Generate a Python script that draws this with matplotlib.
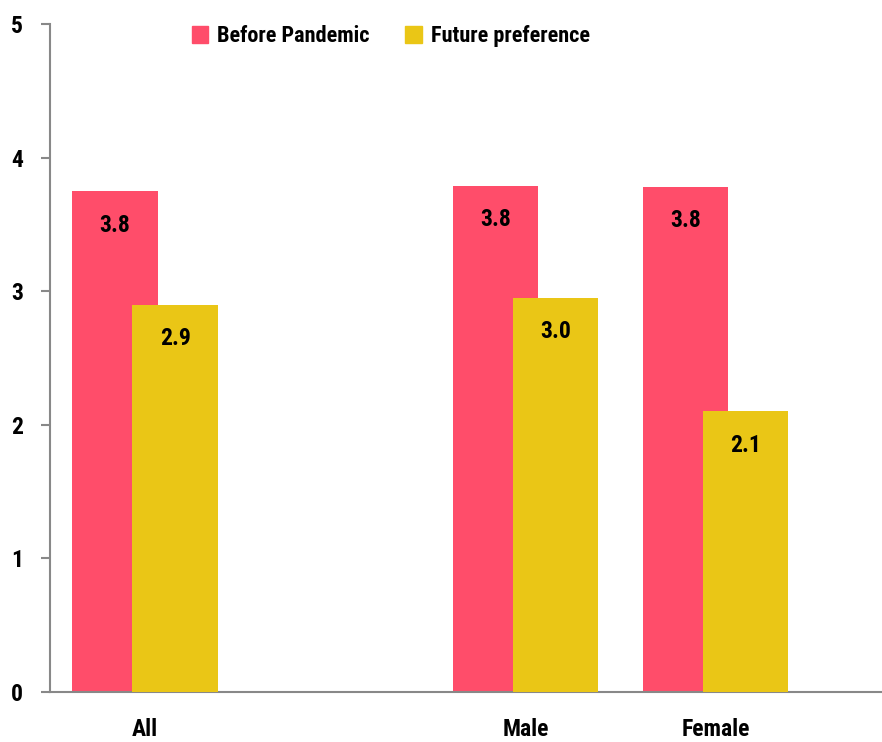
import matplotlib.pyplot as plt
from matplotlib import font_manager
from matplotlib.patches import Patch
import numpy as np

categories = ['All', '', 'Male', 'Female']
before = [3.75, None, 3.79, 3.78]
future = [2.90, None, 2.95, 2.10]
before_labels = ['3.8', '', '3.8', '3.8']
future_labels = ['2.9', '', '3.0', '2.1']

pink = '#FF4D6A'
yellow = '#EAC616'
grey = '#888888'


def main():
    names = {f.name for f in font_manager.fontManager.ttflist}
    fams = [n for n in ('Roboto Condensed', 'Liberation Sans Narrow')
            if n in names]
    plt.rcParams['font.family'] = fams + ['DejaVu Sans']
    plt.rcParams['font.stretch'] = 'condensed'
    plt.rcParams['font.weight'] = 'bold'
    plt.rcParams['font.size'] = 17

    fig = plt.figure(figsize=(8.82, 7.42), dpi=100)
    ax = fig.add_axes([0.0567, 0.0674, 0.95, 0.9003])

    x = np.arange(len(categories))
    keep = [i for i in range(len(categories)) if before[i] is not None]
    xs = x[keep]
    b = [before[i] for i in keep]
    f = [future[i] for i in keep]

    width = 0.45
    off = 0.158
    bars_b = ax.bar(xs - off, b, width, color=pink, zorder=2)
    bars_f = ax.bar(xs + off, f, width, color=yellow, zorder=3)

    for bars, labels in ((bars_b, [before_labels[i] for i in keep]),
                         (bars_f, [future_labels[i] for i in keep])):
        for bar, lab in zip(bars, labels):
            ax.annotate(lab,
                        xy=(bar.get_x() + bar.get_width() / 2, bar.get_height()),
                        xytext=(0, -24.5), textcoords='offset points',
                        ha='center', va='center', zorder=4)

    ax.set_xlim(-0.5, 3.906)
    ax.set_ylim(0, 5)
    ax.set_yticks([0, 1, 2, 3, 4, 5])
    ax.set_xticks(x)
    ax.set_xticklabels(categories)

    for side in ('top', 'right'):
        ax.spines[side].set_visible(False)
    for side in ('left', 'bottom'):
        ax.spines[side].set_color(grey)
        ax.spines[side].set_linewidth(1.5)
    ax.tick_params(axis='y', length=6.5, width=1.5, color=grey, pad=13)
    ax.tick_params(axis='x', length=0, pad=19)

    handles = [Patch(color=pink, label='Before Pandemic'),
               Patch(color=yellow, label='Future preference')]
    fig.legend(handles=handles, loc='center', ncol=2,
               bbox_to_anchor=(0.443, 0.951), frameon=False, fontsize=16,
               handlelength=0.75, handleheight=0.75, handletextpad=0.4,
               columnspacing=1.6)

    fig.savefig('out.png', dpi=100)


if __name__ == "__main__":
    main()
